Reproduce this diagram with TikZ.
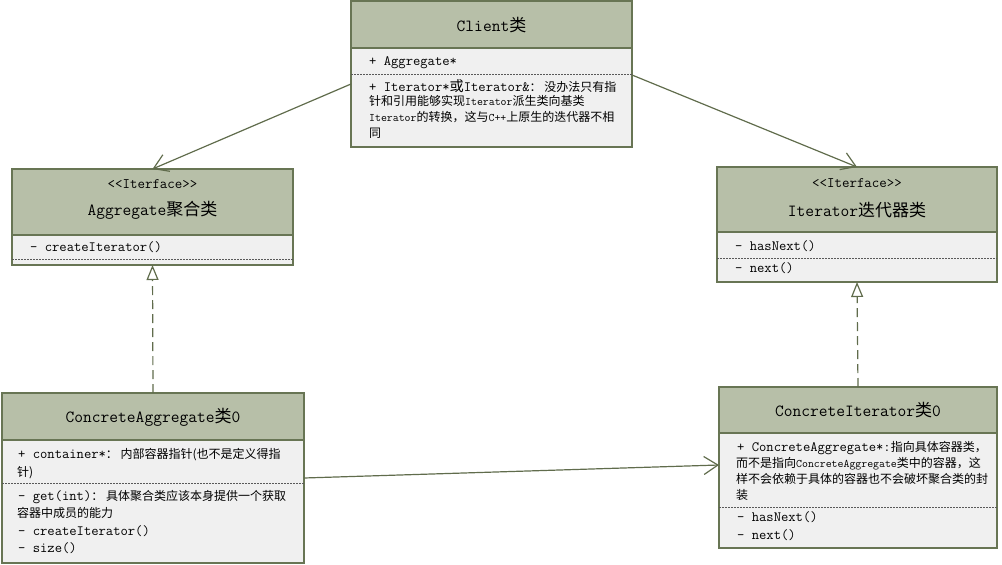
\documentclass[tikz,border=0pt]{standalone}
\usepackage{fontspec}
\usepackage{tikz}
\usepackage{xcolor}
\usetikzlibrary{arrows.meta, positioning}
\newfontfamily\cjk{Noto Sans CJK SC}
\definecolor{hdrgreen}{RGB}{183,191,168}
\definecolor{boxline}{RGB}{104,117,84}
\definecolor{bodygray}{RGB}{240,240,240}
\definecolor{linkline}{RGB}{96,108,76}
\newcommand{\zh}[1]{{\cjk\fontsize{12}{14}\selectfont #1}}
\newcommand{\zb}[1]{{\cjk #1}}
\newcommand{\smtt}[1]{{\ttfamily\fontsize{11.5}{13}\selectfont #1}}
\tikzstyle{clshead} = [draw=boxline, fill=hdrgreen, line width=1.5pt, inner sep=0pt, outer sep=0pt]
\tikzstyle{clsbody} = [draw=boxline, fill=bodygray, line width=1.5pt, inner sep=0pt, outer sep=0pt]
\tikzstyle{title} = [inner sep=0pt, text=black, font=\ttfamily\fontsize{17}{20}\selectfont]
\tikzstyle{stereo} = [inner sep=0pt, text=black, font=\ttfamily\fontsize{14.5}{17}\selectfont]
\tikzstyle{memb} = [anchor=west, inner sep=0pt, text=black, font=\ttfamily\fontsize{14.2}{16}\selectfont]
\tikzstyle{sepline} = [black!65, line width=0.8pt, dash pattern=on 2pt off 1pt]
\tikzstyle{assoc} = [line width=1.2pt, draw=linkline, -{Straight Barb[length=14pt,width=18pt]}]
\tikzstyle{realize} = [line width=1.2pt, draw=linkline, dash pattern=on 9pt off 5pt, -{Triangle[open,fill=white,length=15pt,width=12pt]}]

\begin{document}
\begin{tikzpicture}[x=1pt, y=-1pt]
        \useasboundingbox (0,0) rectangle (1002,565);

        % Client
        \node[clshead, minimum width=281pt, minimum height=47pt] (clienthead) at (491.5,24.5) {};
        \node[clsbody, minimum width=281pt, minimum height=99pt, below=0pt of clienthead] (clientbody) {};
        \node[title] (clientname) at (491.5,25) {Client\zb{类}};
        \node[memb] (cl1) at (369,63) {+ Aggregate*};
        \draw[sepline] (clientbody.west |- 0,74) -- (clientbody.east |- 0,74);
        \node[memb] (cl2) at (369,86) {+ Iterator*\zb{或}Iterator\&\zh{： 没办法只有指}};
        \node[memb] (cl3) at (369,101) {\zh{针和引用能够实现\smtt{Iterator}派生类向基类}};
        \node[memb] (cl4) at (369,117) {\zh{\smtt{Iterator}的转换，这与\smtt{C++}上原生的迭代器不相}};
        \node[memb] (cl5) at (369,133) {\zh{同}};

        % Aggregate
        \node[clshead, minimum width=281pt, minimum height=66pt] (agghead) at (152.5,202) {};
        \node[clsbody, minimum width=281pt, minimum height=30pt, below=0pt of agghead] (aggbody) {};
        \node[stereo] (aggster) at (152.5,184) {<<Iterface>>};
        \node[title] (aggname) at (152.5,210) {Aggregate\zb{聚合类}};
        \node[memb] (ag1) at (30,247) {- createIterator()};
        \draw[sepline] (aggbody.west |- 0,259) -- (aggbody.east |- 0,259);

        % Iterator
        \node[clshead, minimum width=280pt, minimum height=65pt] (ithead) at (857,199.5) {};
        \node[clsbody, minimum width=280pt, minimum height=50pt, below=0pt of ithead] (itbody) {};
        \node[stereo] (itster) at (857,183) {<<Iterface>>};
        \node[title] (itname) at (857,210) {Iterator\zb{迭代器类}};
        \node[memb] (it1) at (735,246) {- hasNext()};
        \draw[sepline] (itbody.west |- 0,258) -- (itbody.east |- 0,258);
        \node[memb] (it2) at (735,268) {- next()};

        % ConcreteAggregate
        \node[clshead, minimum width=302pt, minimum height=47pt] (cahead) at (153,416.5) {};
        \node[clsbody, minimum width=302pt, minimum height=123pt, below=0pt of cahead] (cabody) {};
        \node[title] (caname) at (153,417) {ConcreteAggregate\zb{类}0};
        \node[memb] (ca1) at (18,455) {+ container*\zh{： 内部容器指针(也不是定义得指}};
        \node[memb] (ca2) at (17,473) {\zh{针)}};
        \draw[sepline] (cabody.west |- 0,483) -- (cabody.east |- 0,483);
        \node[memb] (ca3) at (18,497) {- get(int)\zh{： 具体聚合类应该本身提供一个获取}};
        \node[memb] (ca4) at (17,513) {\zh{容器中成员的能力}};
        \node[memb] (ca5) at (18,531) {- createIterator()};
        \node[memb] (ca6) at (18,548) {- size()};

        % ConcreteIterator
        \node[clshead, minimum width=278pt, minimum height=46pt] (cihead) at (858,410) {};
        \node[clsbody, minimum width=278pt, minimum height=115pt, below=0pt of cihead] (cibody) {};
        \node[title] (ciname) at (858,410) {ConcreteIterator\zb{类}0};
        \node[memb] (ci1) at (737,448) {+ ConcreteAggregate*:\zh{指向具体容器类，}};
        \node[memb] (ci2) at (736,464) {\zh{而不是指向\smtt{ConcreteAggregate}类中的容器，这}};
        \node[memb] (ci3) at (736,479) {\zh{样不会依赖于具体的容器也不会破坏聚合类的封}};
        \node[memb] (ci4) at (736,495) {\zh{装}};
        \draw[sepline] (cibody.west |- 0,507) -- (cibody.east |- 0,507);
        \node[memb] (ci5) at (737,517) {- hasNext()};
        \node[memb] (ci6) at (737,535) {- next()};

        % Verbindungen
        \draw[assoc] ([yshift=13.5pt]clientbody.west) -- (agghead.north);
        \draw[assoc] ([yshift=22.5pt]clientbody.east) -- (ithead.north);
        \draw[assoc] ([yshift=23.5pt]cabody.east) -- ([yshift=25.5pt]cibody.west);
        \draw[realize] (cahead.north) -- (aggbody.south);
        \draw[realize] (cihead.north) -- (itbody.south);

\end{tikzpicture}
\end{document}
